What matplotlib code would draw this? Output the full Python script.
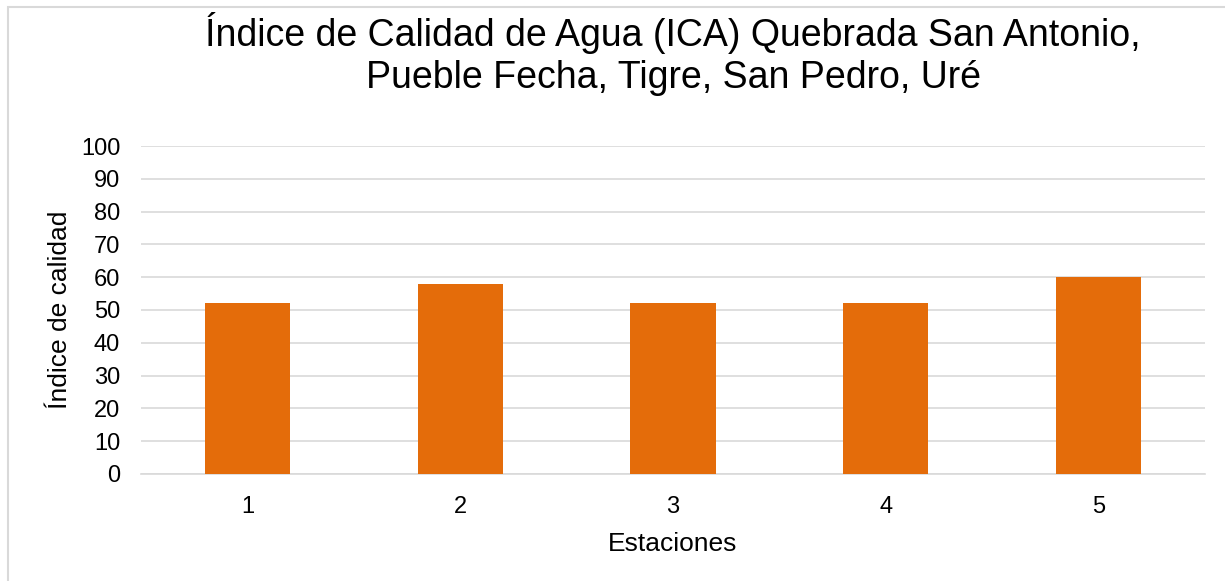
import matplotlib
matplotlib.use('Agg')
import matplotlib.pyplot as plt
from matplotlib.patches import Rectangle

plt.rcParams['font.family'] = ['Liberation Sans', 'DejaVu Sans']

# datos
estaciones = ['1', '2', '3', '4', '5']
ica = [52, 58, 52, 52, 60]
yticks = list(range(0, 101, 10))

fig = plt.figure(figsize=(12.25, 5.81), dpi=100)
ax = fig.add_axes([0.1151, 0.1842, 0.8686, 0.5645])

# marco del area del grafico (cortado por la derecha y abajo)
fig.patches.append(Rectangle((8 / 1225, -0.05), 1.2, 1 - 7 / 581 + 0.05,
                             transform=fig.transFigure, fill=False,
                             edgecolor='#d9d9d9', lw=1.5))
fig.text(0.0, 1.012, 'Global', fontsize=14, ha='left', va='center')

x = range(len(estaciones))
ax.bar(x, ica, width=0.4, color='#E46C0A', zorder=3)

ax.set_xlim(-0.5, len(estaciones) - 0.5)
ax.set_ylim(0, 100)
ax.set_yticks(yticks)
ax.set_xticks(list(x))
ax.set_xticklabels(estaciones)
ax.tick_params(axis='both', length=0, labelsize=17, colors='black')
ax.tick_params(axis='x', pad=16)
ax.tick_params(axis='y', pad=15)
ax.yaxis.grid(True, color='#d9d9d9', lw=1.2, zorder=0)
for s in ['top', 'right', 'left']:
    ax.spines[s].set_visible(False)
ax.spines['bottom'].set_color('#d9d9d9')
ax.spines['bottom'].set_linewidth(1.2)

ax.set_xlabel('Estaciones', fontsize=19, labelpad=10)
ax.set_ylabel('Índice de calidad', fontsize=19, labelpad=6)

fig.text(0.5494, 0.907, 'Índice de Calidad de Agua (ICA) Quebrada San Antonio,\nPueble Fecha, Tigre, San Pedro, Uré',
         ha='center', va='center', fontsize=27, linespacing=1.2)

fig.savefig('out.png', dpi=100, facecolor='white')
